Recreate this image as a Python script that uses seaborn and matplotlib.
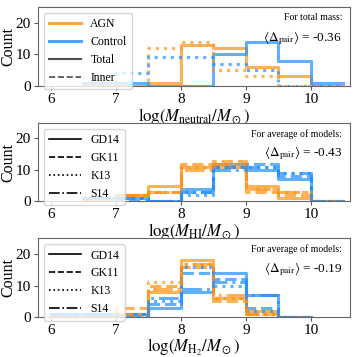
import numpy as np
import pandas as pd
import matplotlib
matplotlib.use('Agg')
import matplotlib.pyplot as plt
from matplotlib.lines import Line2D
import seaborn as sns

# bin edges (log mass)
edges_neutral = [6.5, 7.0, 7.5, 8.0, 8.5, 9.0, 9.5, 10.0, 10.5]
edges_hi = [6.5, 7.0, 7.5, 8.0, 8.5, 9.0, 9.5, 10.0, 10.5]
edges_h2 = [6.0, 6.5, 7.0, 7.5, 8.0, 8.5, 9.0, 9.5, 10.0]

# neutral gas: total and inner
agn_total = [0, 0, 1, 13, 12, 6, 3, 0]
agn_inner = [1, 0, 12, 14, 5, 3, 0, 0]
ctrl_total = [1, 1, 0, 0, 10, 14, 8, 1]
ctrl_inner = [1, 4, 9, 9, 7, 5, 0, 0]

# HI, per model
models = ['GD14', 'GK11', 'K13', 'S14']
hi_agn = {
    'GD14': [0, 2, 5, 11, 11, 5, 1, 0],
    'GK11': [0, 2, 3, 12, 13, 3, 2, 0],
    'K13':  [0, 2, 3, 11, 12, 4, 3, 0],
    'S14':  [1, 2, 3, 10, 12, 4, 3, 0],
}
hi_ctrl = {
    'GD14': [1, 1, 0, 4, 12, 10, 7, 0],
    'GK11': [1, 0, 0, 3, 11, 12, 8, 0],
    'K13':  [1, 1, 0, 2, 11, 11, 9, 0],
    'S14':  [1, 1, 0, 3, 10, 11, 9, 0],
}
# H2, per model
h2_agn = {
    'GD14': [0, 0, 1, 8, 18, 6, 2, 0],
    'GK11': [0, 0, 3, 10, 16, 5, 1, 0],
    'K13':  [0, 0, 0, 11, 17, 6, 1, 0],
    'S14':  [0, 0, 1, 9, 17, 7, 1, 0],
}
h2_ctrl = {
    'GD14': [1, 1, 1, 3, 8, 14, 7, 0],
    'GK11': [1, 1, 0, 4, 14, 12, 3, 0],
    'K13':  [1, 0, 1, 5, 16, 10, 2, 0],
    'S14':  [1, 1, 0, 6, 9, 11, 7, 0],
}
delta_pair = ['-0.36', '-0.43', '-0.19']

c_agn = '#ff9010'
c_ctrl = '#1e8fff'
styles = {'GD14': '-', 'GK11': '--', 'K13': ':', 'S14': '-.'}
lw = 2.2
alp = 0.7

plt.rcParams['font.family'] = ['Liberation Serif', 'DejaVu Serif']
plt.rcParams['mathtext.fontset'] = 'stix'


def step(ax, edges, counts, color, ls):
    e = np.array(edges)
    df = pd.DataFrame({'x': (e[:-1] + e[1:]) / 2, 'w': counts})
    sns.histplot(data=df, x='x', weights='w', bins=list(edges), element='step', fill=False,
                 color=color, linestyle=ls, linewidth=lw, alpha=alp, ax=ax)


fig, axes = plt.subplots(3, 1, figsize=(3.57, 3.57), dpi=100)
fig.subplots_adjust(left=0.106, right=0.98, top=0.98, bottom=0.112, hspace=0.47)

leg_kw = dict(loc='upper left', fontsize=8.5, handlelength=2.7, labelspacing=0.5,
              borderpad=0.45, handletextpad=0.8)

# panel 1
ax = axes[0]
step(ax, edges_neutral, agn_total, c_agn, '-')
step(ax, edges_neutral, ctrl_total, c_ctrl, '-')
step(ax, edges_neutral, agn_inner, c_agn, ':')
step(ax, edges_neutral, ctrl_inner, c_ctrl, ':')
handles = [Line2D([], [], color=c_agn, lw=lw, alpha=0.8),
           Line2D([], [], color=c_ctrl, lw=lw, alpha=0.8),
           Line2D([], [], color='0.3', lw=1.5),
           Line2D([], [], color='0.3', lw=1.2, ls='--')]
ax.legend(handles, ['AGN', 'Control', 'Total', 'Inner'], **leg_kw)
ax.set_xlabel(r'$\log(M_{\rm neutral}/M_\odot)$', fontsize=12, labelpad=0)
ax.text(0.975, 0.92, 'For total mass:', transform=ax.transAxes, ha='right', va='top', fontsize=7)

# panels 2 and 3
for ax, edges, agn, ctrl, lab in [(axes[1], edges_hi, hi_agn, hi_ctrl, r'$\log(M_{\rm HI}/M_\odot)$'),
                                  (axes[2], edges_h2, h2_agn, h2_ctrl, r'$\log(M_{\rm H_2}/M_\odot)$')]:
    for m in models:
        step(ax, edges, agn[m], c_agn, styles[m])
        step(ax, edges, ctrl[m], c_ctrl, styles[m])
    handles = [Line2D([], [], color='k', lw=1.2, ls=styles[m]) for m in models]
    ax.legend(handles, models, **leg_kw)
    ax.set_xlabel(lab, fontsize=12, labelpad=0)
    ax.text(0.975, 0.92, 'For average of models:', transform=ax.transAxes, ha='right', va='top', fontsize=7)

for ax, d in zip(axes, delta_pair):
    ax.text(0.975, 0.72, r'$\langle\Delta_{\rm pair}\rangle$ = ' + d, transform=ax.transAxes,
            ha='right', va='top', fontsize=9.5)
    ax.set_xlim(5.8, 10.6)
    ax.set_ylim(0, 25)
    ax.set_xticks([6, 7, 8, 9, 10])
    ax.set_yticks([0, 10, 20])
    ax.set_ylabel('Count', fontsize=11.5)
    ax.yaxis.set_label_coords(-0.068, 0.5)
    ax.tick_params(labelsize=11, length=3, pad=2, color='0.35')
    for s in ax.spines.values():
        s.set_color('0.4')

fig.savefig('out.png', dpi=100)
